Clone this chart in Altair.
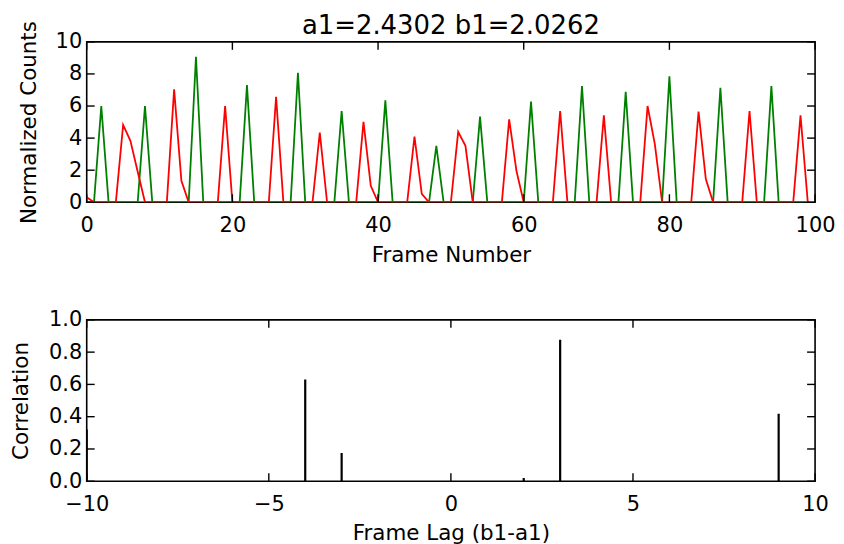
import altair as alt
import pandas as pd

# ---------------- data ----------------
frames = list(range(100))
red_counts = [
    0.31, 0, 0, 0, 0, 4.82, 3.83, 1.9, 0, 0,
    0, 0, 7.04, 1.34, 0, 0, 0, 0, 0, 6.0,
    0, 0, 0, 0, 0, 0, 6.58, 0, 0, 0,
    0, 0, 4.35, 0, 0, 0, 0, 0, 5.01, 1.03,
    0, 0, 0, 0, 0, 4.1, 0.52, 0, 0, 0,
    0, 4.39, 3.52, 0, 0, 0, 0, 0, 5.17, 1.96,
    0, 0, 0, 0, 0, 5.69, 0, 0, 0, 0,
    0, 5.42, 0, 0, 0, 0, 0, 6.0, 3.62, 0,
    0, 0, 0, 0, 5.65, 1.45, 0, 0, 0, 0,
    0, 5.69, 0, 0, 0, 0, 0, 0, 5.42, 0,
]
green_counts = [
    0, 0, 6.0, 0, 0, 0, 0, 0, 6.0, 0,
    0, 0, 0, 0, 0, 9.07, 0, 0, 0, 0,
    0, 0, 7.3, 0, 0, 0, 0, 0, 0, 8.07,
    0, 0, 0, 0, 0, 5.69, 0, 0, 0, 0,
    0, 6.35, 0, 0, 0, 0, 0, 0, 3.52, 0,
    0, 0, 0, 0, 5.34, 0, 0, 0, 0, 0,
    0, 6.27, 0, 0, 0, 0, 0, 0, 7.24, 0,
    0, 0, 0, 0, 6.89, 0, 0, 0, 0, 0,
    7.86, 0, 0, 0, 0, 0, 0, 7.14, 0, 0,
    0, 0, 0, 0, 7.24, 0, 0, 0, 0, 0,
]
lags = list(range(-10, 11))
correlation = [
    0.32, 0, 0, 0, 0, 0, 0.63, 0.175, 0, 0,
    0, 0, 0.02, 0.877, 0, 0, 0, 0, 0, 0.418,
    0,
]

top_x_ticks = [0, 20, 40, 60, 80, 100]
top_y_ticks = [0, 2, 4, 6, 8, 10]
bot_x_ticks = [-10, -5, 0, 5, 10]
bot_y_ticks = [0, 0.2, 0.4, 0.6, 0.8, 1.0]

title_text = "a1=2.4302 b1=2.0262"

# ---------------- layout ----------------
W = 731
H1 = 161
H2 = 162
TL = 8  # inner tick length
FONT = "DejaVu Sans"
FS = 21
TFS = 21.5


def tick_layers(xticks, yticks, xscale, yscale, xaxis, yaxis, h):
    xt = pd.DataFrame({"v": xticks})
    yt = pd.DataFrame({"v": yticks})
    base_x = alt.Chart(xt).mark_rule(color="black", strokeWidth=1.4)
    base_y = alt.Chart(yt).mark_rule(color="black", strokeWidth=1.4)
    xenc = alt.X("v:Q", scale=xscale, axis=xaxis)
    yenc = alt.Y("v:Q", scale=yscale, axis=yaxis)
    return [
        base_x.encode(x=xenc, y=alt.value(h), y2=alt.value(h - TL)),
        base_x.encode(x=xenc, y=alt.value(0), y2=alt.value(TL)),
        base_y.encode(y=yenc, x=alt.value(0), x2=alt.value(TL)),
        base_y.encode(y=yenc, x=alt.value(W - TL), x2=alt.value(W)),
    ]


# ---------------- top panel ----------------
top_df = pd.DataFrame({"frame": frames, "red": red_counts, "green": green_counts})
xs1 = alt.Scale(domain=[0, 100], nice=False, zero=False)
ys1 = alt.Scale(domain=[0, 10], nice=False)

x_axis1 = alt.Axis(values=top_x_ticks, title="Frame Number", format="d",
                   labelPadding=12, titlePadding=9, labelFlush=False)
y_axis1 = alt.Axis(values=top_y_ticks, title="Normalized Counts", format="d",
                   labelPadding=5, titlePadding=15)

green_line = alt.Chart(top_df).mark_line(color="#008000", strokeWidth=1.8, clip=True).encode(
    x=alt.X("frame:Q", scale=xs1, axis=x_axis1),
    y=alt.Y("green:Q", scale=ys1, axis=y_axis1),
)
red_line = alt.Chart(top_df).mark_line(color="#ff0000", strokeWidth=1.8, clip=True).encode(
    x=alt.X("frame:Q", scale=xs1, axis=x_axis1),
    y=alt.Y("red:Q", scale=ys1, axis=y_axis1),
)

top = alt.layer(
    green_line, red_line,
    *tick_layers(top_x_ticks, top_y_ticks, xs1, ys1, x_axis1, y_axis1, H1)
).properties(
    width=W, height=H1,
    title=alt.Title(title_text, fontSize=26, font=FONT, fontWeight="normal",
                    color="black", offset=-19, frame="group", anchor="middle"),
)

# ---------------- bottom panel ----------------
bot_df = pd.DataFrame({"lag": lags, "corr": correlation})
xs2 = alt.Scale(domain=[-10, 10], nice=False, zero=False)
ys2 = alt.Scale(domain=[0, 1], nice=False)

x_axis2 = alt.Axis(values=bot_x_ticks, title="Frame Lag (b1-a1)", format="d",
                   labelPadding=12, titlePadding=8, labelFlush=False,
                   labelExpr="replace(datum.label, '-', '\u2212')")
y_axis2 = alt.Axis(values=bot_y_ticks, title="Correlation", format=".1f",
                   labelPadding=5, titlePadding=16)

stems = alt.Chart(bot_df).mark_rule(color="black", strokeWidth=2.2, clip=True).encode(
    x=alt.X("lag:Q", scale=xs2, axis=x_axis2),
    y=alt.Y("corr:Q", scale=ys2, axis=y_axis2),
    y2=alt.datum(0),
)

bottom = alt.layer(
    stems, *tick_layers(bot_x_ticks, bot_y_ticks, xs2, ys2, x_axis2, y_axis2, H2)
).properties(width=W, height=H2)

chart = alt.vconcat(top, bottom, spacing=41).properties(
    padding={"left": 1, "top": 3, "right": 0, "bottom": 0}
).configure_view(
    stroke="black", strokeWidth=1.6
).configure_axis(
    grid=False, ticks=False, domain=False,
    labelFont=FONT, titleFont=FONT, labelFontSize=FS, titleFontSize=TFS,
    labelColor="black", titleColor="black", titleFontWeight="normal",
)

chart.save("out.html", embed_options={"renderer": "svg", "actions": False})
